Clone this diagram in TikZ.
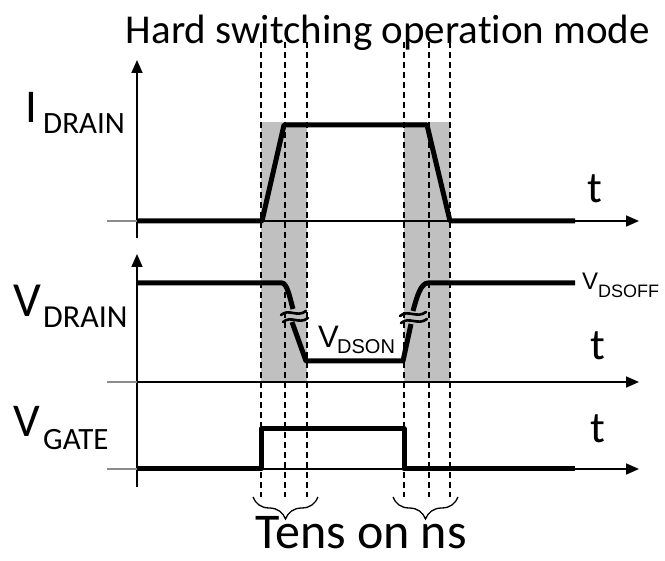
\documentclass[tikz,border=0pt]{standalone}
\usepackage{fontspec}
\setmainfont{Carlito}[Ligatures={NoCommon}]
\newfontfamily\arialf{Liberation Sans}
\usetikzlibrary{arrows.meta,decorations.pathreplacing}
\definecolor{winfill}{RGB}{192,192,192}
\tikzset{
  sig/.style={line width=5pt, line join=round},
  axis/.style={line width=1.6pt, -{Triangle[length=13pt,width=11pt]}},
  stub/.style={line width=1.6pt, draw=black!45},
  guide/.style={line width=1.3pt, dash pattern=on 6pt off 4pt},
  brk/.style={line width=2.6pt, line cap=round},
  lbl/.style={inner sep=0pt, anchor=base west},
  brc/.style={decorate, decoration={brace, mirror, amplitude=22pt}, line width=1.3pt},
}
\begin{document}
\begin{tikzpicture}[x=1pt,y=-1pt]
\useasboundingbox (0,0) rectangle (665,561);
% shaded transition windows
\fill[winfill] (261,122) rectangle (307,382);
\fill[winfill] (404,122) rectangle (450,382);
% dashed guides
\foreach \gx/\gn in {261/a,285/b,307/c,404/d,429/e,450/f}{
  \coordinate (g\gn t) at (\gx,42);
  \coordinate (g\gn b) at (\gx,497);
  \draw[guide] (g\gn t) -- (g\gn b);
}
% axes
\coordinate (iy0) at (137,238); \coordinate (iy1) at (137,60);
\coordinate (vy0) at (137,487); \coordinate (vy1) at (137,254);
\coordinate (is) at (107,221); \coordinate (io) at (137,221); \coordinate (ie) at (639,221);
\coordinate (vs) at (107,382); \coordinate (vo) at (137,382); \coordinate (ve) at (639,382);
\coordinate (gs) at (107,469); \coordinate (go) at (137,469); \coordinate (ge) at (639,469);
\draw[axis] (iy0) -- (iy1);
\draw[axis] (vy0) -- (vy1);
\draw[stub] (is) -- (io); \draw[axis] (io) -- (ie);
\draw[stub] (vs) -- (vo); \draw[axis] (vo) -- (ve);
\draw[stub] (gs) -- (go); \draw[axis] (go) -- (ge);
% I_DRAIN waveform
\draw[sig] (137,221) -- (262,221) -- (284,125) -- (427,125) -- (450,221) -- (575,221);
% V_DRAIN waveform
\draw[sig] (137,283) -- (282,283) .. controls (287,283) and (290,298) .. (293,309);
\draw[sig] (292,322) -- (306,361) -- (403,361) -- (411,324);
\draw[sig] (413,311) .. controls (417,296) and (421,283) .. (428,283) -- (575,283);
% break marks
\draw[brk] (281,315) .. controls (289,308) and (297,318) .. (306,311);
\draw[brk] (283,322) .. controls (291,315) and (299,325) .. (308,318);
\draw[brk] (400,316) .. controls (408,309) and (417,319) .. (426,312);
\draw[brk] (401,323) .. controls (409,316) and (418,326) .. (427,319);
% V_GATE waveform
\draw[sig] (137,469) -- (261,469) -- (261,429) -- (404,429) -- (404,469) -- (575,469);
% braces
\coordinate (b1l) at (253,497); \coordinate (b1r) at (318,497);
\coordinate (b2l) at (393,497); \coordinate (b2r) at (458,497);
\draw[brc] (b1l) -- (b1r);
\draw[brc] (b2l) -- (b2r);
% texts
\node[inner sep=0pt, anchor=base, font=\fontsize{41}{44}\selectfont] (title) at (388,44) {Hard switching operation mode};
\node[inner sep=0pt, anchor=base, font=\fontsize{50}{53}\selectfont] (tens) at (361,549) {Tens on ns};
\node[lbl, font=\fontsize{47}{50}\selectfont] (iI) at (25,123) {I};
\node[lbl, font=\fontsize{31}{34}\selectfont] (iS) at (43,134) {DRAIN};
\node[lbl, font=\fontsize{49}{52}\selectfont] (vV) at (13,317) {V};
\node[lbl, font=\fontsize{32}{35}\selectfont] (vS) at (43,328) {DRAIN};
\node[lbl, font=\fontsize{47}{50}\selectfont] (gV) at (13,437) {V};
\node[lbl, font=\fontsize{31}{34}\selectfont] (gS) at (43,450) {GATE};
\node[lbl, font=\fontsize{44}{47}\selectfont] (t1) at (587,203) {t};
\node[lbl, font=\fontsize{44}{47}\selectfont] (t2) at (590,360) {t};
\node[lbl, font=\fontsize{44}{47}\selectfont] (t3) at (590,443) {t};
\node[lbl, font=\arialf\fontsize{31}{34}\selectfont] (donV) at (318,348) {V};
\node[lbl, font=\arialf\fontsize{20}{23}\selectfont] (donS) at (337,354) {DSON};
\node[lbl, font=\arialf\fontsize{24}{27}\selectfont] (doffV) at (582,290) {V};
\node[lbl, font=\arialf\fontsize{18}{21}\selectfont] (doffS) at (598,298) {DSOFF};
\end{tikzpicture}
\end{document}
